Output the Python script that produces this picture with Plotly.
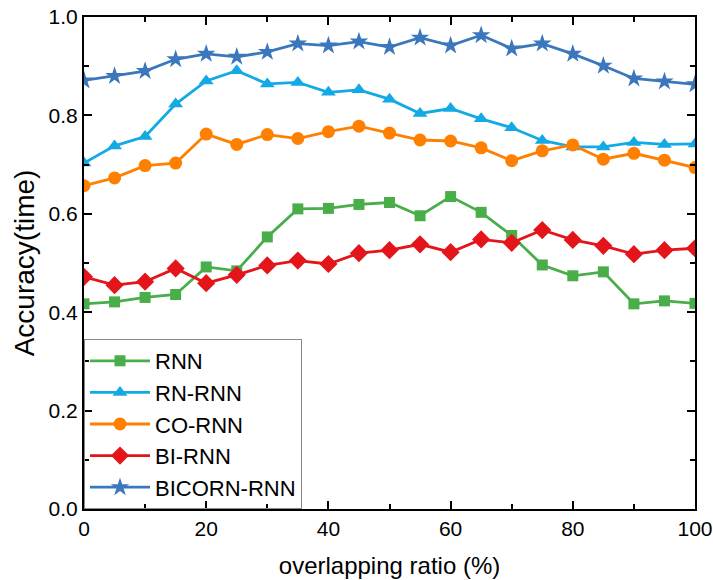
import plotly.graph_objects as go

overlap = [0, 5, 10, 15, 20, 25, 30, 35, 40, 45, 50, 55, 60, 65, 70, 75, 80, 85, 90, 95, 100]

rnn = [0.417, 0.421, 0.430, 0.436, 0.492, 0.484, 0.553, 0.610, 0.611, 0.619, 0.623,
       0.596, 0.635, 0.603, 0.556, 0.496, 0.474, 0.482, 0.417, 0.423, 0.418]
rn_rnn = [0.703, 0.738, 0.757, 0.823, 0.870, 0.891, 0.864, 0.867, 0.847, 0.852, 0.833,
          0.804, 0.814, 0.793, 0.775, 0.749, 0.736, 0.736, 0.745, 0.741, 0.742]
co_rnn = [0.657, 0.673, 0.698, 0.703, 0.762, 0.741, 0.761, 0.753, 0.767, 0.778, 0.764,
          0.750, 0.748, 0.734, 0.708, 0.728, 0.740, 0.711, 0.723, 0.709, 0.694]
bi_rnn = [0.472, 0.455, 0.462, 0.489, 0.459, 0.476, 0.495, 0.505, 0.498, 0.520, 0.526,
          0.538, 0.522, 0.548, 0.541, 0.567, 0.547, 0.535, 0.518, 0.526, 0.530]
bicorn_rnn = [0.871, 0.880, 0.890, 0.914, 0.925, 0.919, 0.929, 0.946, 0.942, 0.950, 0.939,
              0.958, 0.942, 0.963, 0.936, 0.946, 0.925, 0.901, 0.875, 0.869, 0.863]

series = [
    ("RNN", rnn, "#49AD4A", "square", 11),
    ("RN-RNN", rn_rnn, "#12A9E5", "triangle-up", 13),
    ("CO-RNN", co_rnn, "#FF8000", "circle", 13),
    ("BI-RNN", bi_rnn, "#E3151B", "diamond", 14),
    ("BICORN-RNN", bicorn_rnn, "#3A77BD", "star", 14),
]

fig = go.Figure()
for name, vals, color, sym, size in series:
    fig.add_trace(go.Scatter(
        x=overlap, y=vals, name=name, mode="lines+markers",
        line=dict(color=color, width=2.8),
        marker=dict(symbol=sym, size=size, color=color),
    ))

font_family = "Liberation Sans, Arial, sans-serif"
axis_common = dict(
    showline=True, linecolor="black", linewidth=2, mirror="allticks",
    ticks="inside", ticklen=8, tickwidth=2, tickcolor="black",
    showgrid=False, zeroline=False, automargin=False,
    ticklabeloverflow="allow",
    tickfont=dict(family=font_family, size=21, color="black"),
)

fig.update_layout(
    width=713, height=580,
    margin=dict(l=84, r=18, t=17, b=71),
    paper_bgcolor="white", plot_bgcolor="white",
    font=dict(family=font_family, color="black"),
    xaxis=dict(
        range=[0, 100], tickvals=[0, 20, 40, 60, 80, 100],
        minor=dict(dtick=10, ticks="inside", ticklen=5, tickwidth=1.5, tickcolor="black"),
        title=dict(text="overlapping ratio (%)", font=dict(size=24, family=font_family), standoff=18),
        **axis_common,
    ),
    yaxis=dict(
        range=[0, 1.0], dtick=0.2, tickformat=".1f",
        minor=dict(dtick=0.1, ticks="inside", ticklen=5, tickwidth=1.5, tickcolor="black"),
        title=dict(text="Accuracy(time)", font=dict(size=28, family=font_family), standoff=6),
        **axis_common,
    ),
    legend=dict(
        x=0, y=0, xanchor="left", yanchor="bottom",
        bgcolor="rgba(255,255,255,0)", bordercolor="#888888", borderwidth=1,
        font=dict(size=22, family=font_family, color="black"),
        itemwidth=60, tracegroupgap=0,
    ),
    showlegend=True,
)

# remove the page's default 8px body margin so the figure fills the window exactly
fig.write_html("out.html", config={"displayModeBar": False},
               post_script="document.body.style.margin='0px';")
